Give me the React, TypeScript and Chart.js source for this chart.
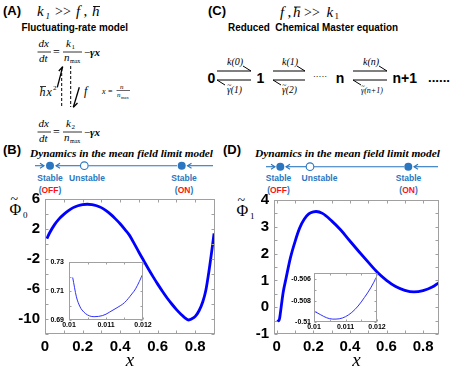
import React, { useEffect, useRef } from 'react';
import { Chart, registerables } from 'chart.js';

Chart.register(...registerables);

const W = 463;
const H = 371;
const SANS = '"Liberation Sans", Arial, sans-serif';
const SERIF = '"Liberation Serif", "Times New Roman", serif';
const BLUE = '#2a76c0';
const RED = '#ff1010';

// ---- Panel B: main curve ----
const bX = [0.01, 0.025, 0.05, 0.075, 0.1, 0.125, 0.15, 0.175, 0.2, 0.225, 0.25, 0.275, 0.3, 0.325, 0.35, 0.375, 0.4, 0.425, 0.45, 0.475, 0.5, 0.525, 0.55, 0.575, 0.6, 0.625, 0.65, 0.675, 0.7, 0.725, 0.745, 0.765, 0.78, 0.8, 0.82, 0.84, 0.856, 0.873, 0.888, 0.9];
const bY = [0.72, 1.5, 2.55, 3.35, 3.95, 4.45, 4.85, 5.1, 5.25, 5.3, 5.25, 5.1, 4.85, 4.45, 3.95, 3.35, 2.7, 1.95, 1.15, 0.05, -1.1, -2.2, -3.3, -4.35, -5.35, -6.3, -7.2, -8.0, -8.75, -9.4, -9.85, -10.13, -10.0, -9.65, -8.9, -7.7, -6.2, -3.6, -0.9, 1.4];
const bXTicks = ['0', '0.2', '0.4', '0.6', '0.8'];
const bYTicks = ['6', '2', '-2', '-6', '-10'];

// ---- Panel B: inset ----
const biX = [0.0101, 0.0102, 0.0103, 0.0104, 0.0105, 0.0106, 0.0107, 0.0108, 0.0109, 0.011, 0.0111, 0.0113, 0.0115, 0.0117, 0.0118, 0.0119, 0.012];
const biY = [0.7193, 0.706, 0.699, 0.6955, 0.6935, 0.6925, 0.6923, 0.6925, 0.693, 0.694, 0.6955, 0.6985, 0.702, 0.708, 0.7115, 0.7165, 0.722];
const biXTicks = ['0.01', '0.011', '0.012'];
const biYTicks = ['0.69', '0.71', '0.73'];

// ---- Panel D: main curve ----
const dX = [0.004, 0.0106, 0.016, 0.025, 0.035, 0.05, 0.075, 0.1, 0.125, 0.15, 0.175, 0.2, 0.215, 0.25, 0.3, 0.35, 0.4, 0.45, 0.5, 0.55, 0.6, 0.65, 0.7, 0.75, 0.8, 0.85, 0.887];
const dY = [-0.47, -0.51, -0.4, 0.05, 0.55, 1.05, 1.85, 2.45, 2.95, 3.28, 3.48, 3.56, 3.57, 3.5, 3.22, 2.88, 2.47, 2.07, 1.68, 1.3, 1.0, 0.77, 0.63, 0.57, 0.62, 0.75, 0.92];
const dXTicks = ['0', '0.2', '0.4', '0.6', '0.8'];
const dYTicks = ['-1', '0', '1', '2', '3', '4'];

// ---- Panel D: inset ----
const diX = [0.01, 0.0102, 0.0104, 0.0106, 0.0108, 0.011, 0.0112, 0.0114, 0.0116, 0.0118, 0.012];
const diY = [-0.50898, -0.5093, -0.5096, -0.50973, -0.5097, -0.5095, -0.5091, -0.5085, -0.5077, -0.5068, -0.5057];
const diXTicks = ['0.01', '0.011', '0.012'];
const diYTicks = ['-0.51', '-0.508', '-0.506'];

type Spec = {
  xs: number[]; ys: number[];
  xMin: number; xMax: number; xStep: number; xLabels: string[]; xDigits: number;
  yMin: number; yMax: number; yStep: number; yLabels: string[]; yDigits: number;
  area: { l: number; t: number; r: number; b: number };
  font: number; lineW: number; color: string;
  padX: number; padY: number; tick: number; title?: string; bg?: boolean;
};

function fmt(v: number, d: number) {
  const f = Math.pow(10, d);
  return String(Math.round(v * f) / f);
}

function makeChart(canvas: HTMLCanvasElement, s: Spec) {
  const frame = {
    id: 'frame',
    beforeDraw(chart: any) {
      if (!s.bg) return;
      const { ctx, chartArea: a } = chart;
      ctx.save();
      ctx.fillStyle = '#ffffff';
      ctx.fillRect(a.left, a.top, a.right - a.left, a.bottom - a.top);
      ctx.restore();
    },
    afterDraw(chart: any) {
      const { ctx, chartArea: a } = chart;
      const L = Math.round(a.left) + 0.5, R = Math.round(a.right) - 0.5;
      const T = Math.round(a.top) + 0.5, B = Math.round(a.bottom) - 0.5;
      ctx.save();
      ctx.strokeStyle = '#a0a0a0';
      ctx.lineWidth = 1;
      ctx.strokeRect(L, T, R - L, B - T);
      const xs = chart.scales.x, ys = chart.scales.y;
      ctx.beginPath();
      xs.ticks.forEach((t: any) => {
        const p = Math.round(xs.getPixelForValue(t.value)) + 0.5;
        ctx.moveTo(p, B); ctx.lineTo(p, B - s.tick);
        ctx.moveTo(p, T); ctx.lineTo(p, T + s.tick);
      });
      ys.ticks.forEach((t: any) => {
        const p = Math.round(ys.getPixelForValue(t.value)) + 0.5;
        ctx.moveTo(L, p); ctx.lineTo(L + s.tick, p);
        ctx.moveTo(R, p); ctx.lineTo(R - s.tick, p);
      });
      ctx.stroke();
      ctx.restore();
    },
  };
  const tickFont = { family: SANS, size: s.font, weight: 'bold' as const };
  return new Chart(canvas, {
    type: 'line',
    data: {
      datasets: [{
        data: s.xs.map((x, i) => ({ x, y: s.ys[i] })),
        borderColor: s.color,
        borderWidth: s.lineW,
        pointRadius: 0,
        cubicInterpolationMode: 'monotone',
        fill: false,
      }],
    },
    options: {
      responsive: false,
      animation: false,
      devicePixelRatio: 1,
      events: [],
      layout: { padding: { left: 0, top: s.area.t, right: W - s.area.r, bottom: 0 } },
      plugins: { legend: { display: false }, tooltip: { enabled: false } },
      scales: {
        x: {
          type: 'linear',
          min: s.xMin, max: s.xMax,
          afterFit: (sc: any) => { sc.height = H - s.area.b; },
          grid: { display: false, drawTicks: false },
          border: { display: false },
          ticks: {
            stepSize: s.xStep, autoSkip: false, maxRotation: 0, minRotation: 0,
            includeBounds: false, padding: s.padX, font: tickFont, color: '#000',
            callback: (v: any) => { const t = fmt(Number(v), s.xDigits); return s.xLabels.includes(t) ? t : ''; },
          },
          title: s.title
            ? { display: true, text: s.title, color: '#000', padding: { top: 0, bottom: 1 }, font: { family: SERIF, size: 19, style: 'italic', lineHeight: 1 } }
            : { display: false },
        },
        y: {
          type: 'linear',
          min: s.yMin, max: s.yMax,
          afterFit: (sc: any) => { sc.width = s.area.l; },
          grid: { display: false, drawTicks: false },
          border: { display: false },
          ticks: {
            stepSize: s.yStep, autoSkip: false, includeBounds: false,
            padding: s.padY, font: tickFont, color: '#000',
            callback: (v: any) => { const t = fmt(Number(v), s.yDigits); return s.yLabels.includes(t) ? t : ''; },
          },
        },
      },
    } as any,
    plugins: [frame],
  });
}

const specs: Spec[] = [
  {
    xs: bX, ys: bY, xMin: 0, xMax: 0.905, xStep: 0.1, xLabels: bXTicks, xDigits: 1,
    yMin: -12, yMax: 6, yStep: 2, yLabels: bYTicks, yDigits: 1,
    area: { l: 45, t: 199, r: 215, b: 334 }, font: 15, lineW: 2.8, color: '#0000ff',
    padX: 4, padY: 5, tick: 3, title: 'x',
  },
  {
    xs: biX, ys: biY, xMin: 0.01, xMax: 0.012, xStep: 0.0005, xLabels: biXTicks, xDigits: 4,
    yMin: 0.69, yMax: 0.73, yStep: 0.01, yLabels: biYTicks, yDigits: 2,
    area: { l: 69, t: 262, r: 143, b: 320 }, font: 7, lineW: 1, color: '#3030ff',
    padX: 1, padY: 5, tick: 2, bg: true,
  },
  {
    xs: dX, ys: dY, xMin: -0.015, xMax: 0.887, xStep: 0.1, xLabels: dXTicks, xDigits: 1,
    yMin: -1, yMax: 4, yStep: 0.5, yLabels: dYTicks, yDigits: 1,
    area: { l: 274, t: 200, r: 439, b: 334 }, font: 15, lineW: 2.8, color: '#0000ff',
    padX: 4, padY: 5, tick: 3, title: 'x',
  },
  {
    xs: diX, ys: diY, xMin: 0.01, xMax: 0.012, xStep: 0.0005, xLabels: diXTicks, xDigits: 4,
    yMin: -0.51, yMax: -0.5054, yStep: 0.001, yLabels: diYTicks, yDigits: 4,
    area: { l: 314, t: 273, r: 377, b: 322 }, font: 7, lineW: 1, color: '#3030ff',
    padX: 1, padY: 3, tick: 2, bg: true,
  },
];

function Eq({ y0, sub }: { y0: number; sub: string }) {
  return (
    <g fontFamily={SERIF} fill="#000">
      <text x={38.5} y={y0 - 5} fontSize={11} fontStyle="italic">dx</text>
      <line x1={37.5} x2={51} y1={y0} y2={y0} stroke="#000" strokeWidth={0.8} />
      <text x={39} y={y0 + 10} fontSize={11} fontStyle="italic">dt</text>
      <text x={53} y={y0 + 4} fontSize={12}>=</text>
      <text x={66} y={y0 - 5} fontSize={11} fontStyle="italic">k</text>
      <text x={71.5} y={y0 - 3} fontSize={7}>{sub}</text>
      <line x1={63} x2={82} y1={y0} y2={y0} stroke="#000" strokeWidth={0.8} />
      <text x={64} y={y0 + 9} fontSize={11} fontStyle="italic">n</text>
      <text x={70} y={y0 + 11} fontSize={6}>max</text>
      <text x={84} y={y0 + 4} fontSize={11}>−</text>
      <text x={90} y={y0 + 4} fontSize={11} fontStyle="italic" fontWeight="bold">γx</text>
    </g>
  );
}

function Pair({ x1, x2, k, g, gs, gx }: { x1: number; x2: number; k: string; g: string; gs: number; gx: number }) {
  const c = (x1 + x2) / 2;
  return (
    <g>
      <line x1={x1} x2={x2} y1={71} y2={71} stroke="#000" strokeWidth={1} />
      <line x1={x2 - 8} x2={x2} y1={66} y2={71} stroke="#000" strokeWidth={1} />
      <line x1={x1} x2={x2} y1={80} y2={80} stroke="#000" strokeWidth={1} />
      <line x1={x1} x2={x1 + 8} y1={80} y2={85} stroke="#000" strokeWidth={1} />
      <text x={c + 1} y={65} fontFamily={SERIF} fontSize={10} fontStyle="italic" textAnchor="middle">{k}</text>
      <text x={gx} y={93} fontFamily={SERIF} fontSize={gs} fontStyle="italic">{'γ' + g}</text>
      <text x={gx + 0.3} y={87.5} fontFamily={SERIF} fontSize={gs * 0.8}>~</text>
    </g>
  );
}

function Row({ y, a1, a2, c1, b1, b2, c2, l1, l2, c3, r1, r2 }: any) {
  const head = (tipX: number, dir: number) => (
    <polyline points={`${tipX - dir * 4},${y - 2.5} ${tipX},${y} ${tipX - dir * 4},${y + 2.5}`} fill="none" stroke={BLUE} strokeWidth={1.1} />
  );
  return (
    <g>
      <line x1={a1} x2={a2} y1={y} y2={y} stroke={BLUE} strokeWidth={1.1} />
      {head(a2, 1)}
      <circle cx={c1} cy={y} r={4} fill={BLUE} />
      <line x1={b1} x2={b2} y1={y} y2={y} stroke={BLUE} strokeWidth={1.1} />
      {head(b2, -1)}
      <circle cx={c2} cy={y} r={3.8} fill="#fff" stroke={BLUE} strokeWidth={1.1} />
      <line x1={l1} x2={l2} y1={y} y2={y} stroke={BLUE} strokeWidth={1.1} />
      <circle cx={c3} cy={y} r={4} fill={BLUE} />
      <line x1={r1} x2={r2} y1={y} y2={y} stroke={BLUE} strokeWidth={1.1} />
      {head(r2, -1)}
    </g>
  );
}

function Status({ x, word, state }: { x: number; word: string; state?: string }) {
  return (
    <g fontFamily={SANS} fontWeight="bold" fontSize={8.5} textAnchor="middle">
      <text x={x} y={180.5} fill={BLUE}>{word}</text>
      {state ? (
        <text x={x} y={192.5}>
          <tspan fill={BLUE}>(</tspan><tspan fill={RED}>{state}</tspan><tspan fill={BLUE}>)</tspan>
        </text>
      ) : null}
    </g>
  );
}

function Annotations() {
  return (
    <svg width={W} height={H} style={{ position: 'absolute', left: 0, top: 0 }}>
      {/* (A) */}
      <text x={3} y={15} fontFamily={SANS} fontWeight="bold" fontSize={13}>(A)</text>
      <g fontFamily={SERIF}>
        <text x={37} y={16} fontSize={15} fontStyle="italic">k</text>
        <text x={45.5} y={19} fontSize={9} fontStyle="italic">1</text>
        <text x={55} y={16} fontSize={14}>&gt;&gt;</text>
        <text x={76} y={16} fontSize={15} fontStyle="italic">f</text>
        <text x={83.5} y={16} fontSize={15}>,</text>
        <text x={92} y={16} fontSize={15} fontStyle="italic">h</text>
        <line x1={93} x2={100} y1={6.5} y2={6.5} stroke="#000" strokeWidth={0.9} />
      </g>
      <text x={21.5} y={30.5} fontFamily={SANS} fontWeight="bold" fontSize={10} textLength={106.5} lengthAdjust="spacingAndGlyphs">Fluctuating-rate model</text>
      <Eq y0={52} sub="1" />
      <Eq y0={132} sub="2" />
      <g fontFamily={SERIF}>
        <text x={39.5} y={96} fontSize={12} fontStyle="italic">h</text>
        <line x1={40} x2={46} y1={86.5} y2={86.5} stroke="#000" strokeWidth={0.8} />
        <text x={46.5} y={96} fontSize={12} fontStyle="italic">x</text>
        <text x={53} y={90} fontSize={7}>2</text>
        <text x={84} y={95} fontSize={12} fontStyle="italic">f</text>
        <text x={102} y={93.5} fontSize={8} fontStyle="italic">x</text>
        <text x={108} y={93.5} fontSize={8}>=</text>
        <text x={120} y={88.5} fontSize={7} fontStyle="italic">n</text>
        <line x1={116.5} x2={130} y1={90.5} y2={90.5} stroke="#000" strokeWidth={0.6} />
        <text x={117} y={97} fontSize={7} fontStyle="italic">n</text>
        <text x={121} y={98.5} fontSize={4.5}>max</text>
      </g>
      <line x1={57.3} y1={87.3} x2={62.7} y2={66.7} stroke="#000" strokeWidth={1.3} />
      <line x1={62.7} y1={66.7} x2={58.8} y2={71} stroke="#000" strokeWidth={1.3} />
      <line x1={61.7} y1={68} x2={61.7} y2={108} stroke="#000" strokeWidth={1} strokeDasharray="3,2" />
      <line x1={70.7} y1={66} x2={70.7} y2={107} stroke="#000" strokeWidth={1} strokeDasharray="3,2" />
      <line x1={79.3} y1={87.3} x2={73.3} y2={107.3} stroke="#000" strokeWidth={1.3} />
      <line x1={73.3} y1={107.3} x2={77.5} y2={103} stroke="#000" strokeWidth={1.3} />

      {/* (C) */}
      <text x={208} y={15} fontFamily={SANS} fontWeight="bold" fontSize={13}>(C)</text>
      <g fontFamily={SERIF}>
        <text x={280} y={16.7} fontSize={15} fontStyle="italic">f</text>
        <text x={287.5} y={16.7} fontSize={15}>,</text>
        <text x={293} y={16.7} fontSize={15} fontStyle="italic">h</text>
        <line x1={294} x2={300.5} y1={7} y2={7} stroke="#000" strokeWidth={0.9} />
        <text x={304} y={16.7} fontSize={14}>&gt;&gt;</text>
        <text x={326.5} y={16.7} fontSize={15} fontStyle="italic">k</text>
        <text x={334.5} y={19} fontSize={9}>1</text>
      </g>
      <text x={228} y={30.5} fontFamily={SANS} fontWeight="bold" fontSize={10} textLength={170} lengthAdjust="spacingAndGlyphs" style={{ whiteSpace: 'pre' }}>Reduced  Chemical Master equation</text>
      <g fontFamily={SANS} fontWeight="bold" fontSize={14}>
        <text x={211.5} y={83} textAnchor="middle">0</text>
        <text x={260.5} y={83} textAnchor="middle">1</text>
        <text x={340} y={83} textAnchor="middle">n</text>
        <text x={392.5} y={83}>n+1</text>
        <text x={428} y={82} fontSize={12} textLength={22} lengthAdjust="spacingAndGlyphs">......</text>
      </g>
      <text x={313} y={77} fontFamily={SANS} fontSize={8} textLength={14} lengthAdjust="spacingAndGlyphs">.....</text>
      <Pair x1={217} x2={251} k="k(0)" g="(1)" gs={9.5} gx={227} />
      <Pair x1={273} x2={305} k="k(1)" g="(2)" gs={9.5} gx={282} />
      <Pair x1={353} x2={387} k="k(n)" g="(n+1)" gs={8} gx={361} />

      {/* (B) header */}
      <text x={3} y={153.5} fontFamily={SANS} fontWeight="bold" fontSize={13}>(B)</text>
      <text x={30} y={156.5} fontFamily={SERIF} fontWeight="bold" fontStyle="italic" fontSize={11} textLength={183} lengthAdjust="spacingAndGlyphs">Dynamics in the mean field limit model</text>
      <Row y={165.7} a1={35} a2={44} c1={50} b1={80} b2={56} c2={84.3} l1={88.3} l2={177} c3={181.7} r1={213} r2={187.5} />
      <Status x={50} word="Stable" state="OFF" />
      <Status x={87} word="Unstable" />
      <Status x={184} word="Stable" state="ON" />

      {/* (D) header */}
      <text x={223} y={153.5} fontFamily={SANS} fontWeight="bold" fontSize={13}>(D)</text>
      <text x={255} y={156.5} fontFamily={SERIF} fontWeight="bold" fontStyle="italic" fontSize={11} textLength={185} lengthAdjust="spacingAndGlyphs">Dynamics in the mean field limit model</text>
      <Row y={166.7} a1={266} a2={275} c1={280.3} b1={306} b2={286} c2={310} l1={314} l2={404} c3={408.3} r1={438} r2={414} />
      <Status x={278.5} word="Stable" state="OFF" />
      <Status x={319.5} word="Unstable" />
      <Status x={408.5} word="Stable" state="ON" />

      {/* y-axis titles */}
      <g fontFamily={SERIF}>
        <text x={9.5} y={215} fontSize={16}>Φ</text>
        <text x={10.5} y={204} fontSize={14}>~</text>
        <text x={23} y={217.5} fontSize={9}>0</text>
        <text x={236.5} y={216} fontSize={16}>Φ</text>
        <text x={237.5} y={205} fontSize={14}>~</text>
        <text x={250} y={218.5} fontSize={9}>1</text>
      </g>
    </svg>
  );
}

export default function App() {
  const refs = [useRef<HTMLCanvasElement>(null), useRef<HTMLCanvasElement>(null), useRef<HTMLCanvasElement>(null), useRef<HTMLCanvasElement>(null)];
  useEffect(() => {
    const charts = specs.map((s, i) => makeChart(refs[i].current as HTMLCanvasElement, s));
    return () => { charts.forEach((c) => c.destroy()); };
  }, []);
  return (
    <div style={{ position: 'absolute', left: 0, top: 0, width: W, height: H, background: '#fff', overflow: 'hidden' }}>
      <Annotations />
      {refs.map((r, i) => (
        <canvas key={i} ref={r} width={W} height={H} style={{ position: 'absolute', left: 0, top: 0, width: W, height: H }} />
      ))}
    </div>
  );
}
